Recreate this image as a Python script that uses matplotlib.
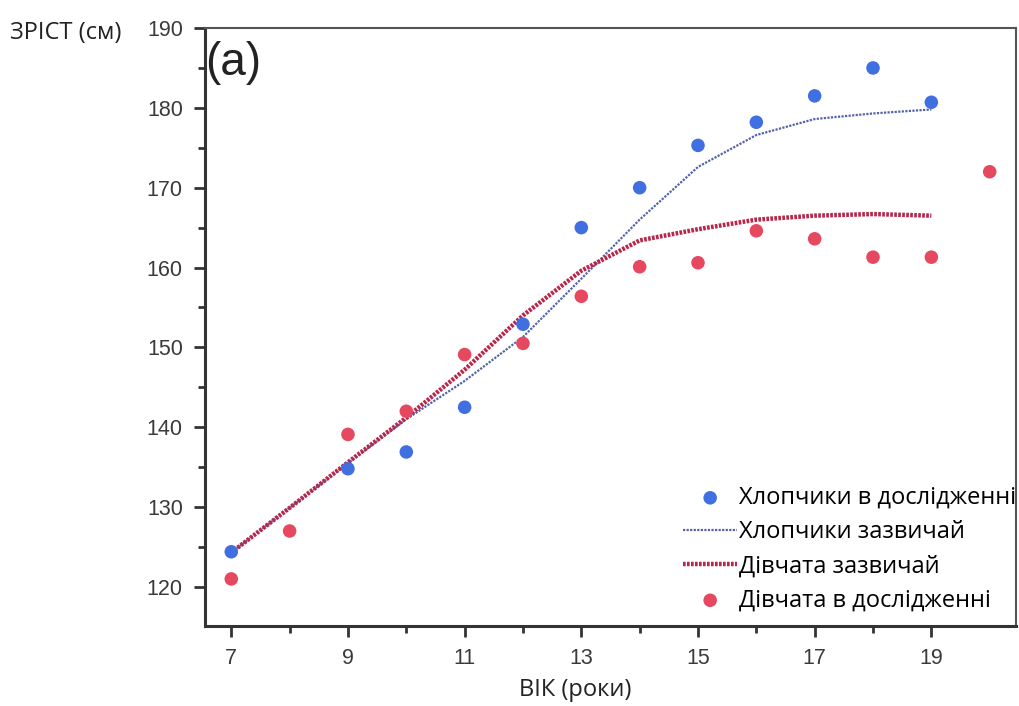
import matplotlib
matplotlib.use("Agg")
import matplotlib.pyplot as plt
from matplotlib.ticker import MultipleLocator

# data
boys_age = [7, 9, 10, 11, 12, 13, 14, 15, 16, 17, 18, 19]
boys_height = [124.4, 134.8, 136.9, 142.5, 152.9, 165.0, 170.0, 175.3, 178.2, 181.5, 185.0, 180.7]

girls_age = [7, 8, 9, 10, 11, 12, 13, 14, 15, 16, 17, 18, 19, 20]
girls_height = [121.0, 127.0, 139.1, 142.0, 149.1, 150.5, 156.4, 160.1, 160.6, 164.6, 163.6, 161.3, 161.3, 172.0]

norm_age = [7, 8, 9, 10, 11, 12, 13, 14, 15, 16, 17, 18, 19]
boys_norm = [124.3, 129.9, 135.5, 141.0, 145.8, 151.3, 158.6, 166.0, 172.6, 176.6, 178.6, 179.3, 179.8]
girls_norm = [124.3, 129.9, 135.6, 141.2, 147.2, 154.0, 159.6, 163.4, 164.8, 166.0, 166.5, 166.7, 166.5]

label_font = ["Open Sans", "DejaVu Sans"]
tick_font = "Liberation Sans"

fig = plt.figure(figsize=(10.19, 7.06), dpi=100)
ax = fig.add_axes([0.2012, 0.1133, 0.7958, 0.847])

ax.scatter(boys_age, boys_height, s=95, color="#3f6fe0", edgecolors="none",
           label="Хлопчики в дослідженні", zorder=3)
ax.plot(norm_age, boys_norm, color="#5562a8", lw=1.6, ls=(0, (1, 0.6)),
        label="Хлопчики зазвичай", zorder=2)
ax.plot(norm_age, girls_norm, color="#b8264a", lw=3.2, ls=(0, (0.6, 0.3)),
        label="Дівчата зазвичай", zorder=2)
ax.scatter(girls_age, girls_height, s=95, color="#e6485f", edgecolors="none",
           label="Дівчата в дослідженні", zorder=3)

ax.set_xlim(6.55, 20.45)
ax.set_ylim(115.1, 190)
ax.yaxis.set_major_locator(MultipleLocator(10))
ax.yaxis.set_minor_locator(MultipleLocator(5))
ax.set_xticks(range(7, 20, 2))
ax.set_xticks(range(8, 20, 2), minor=True)
ax.tick_params(which="major", direction="out", length=8, width=2, labelsize=15.5,
               pad=8, color="#333333")
ax.tick_params(which="minor", direction="out", length=5, width=2, color="#333333")
ax.tick_params(top=False, right=False)
for lbl in ax.get_xticklabels() + ax.get_yticklabels():
    lbl.set_fontfamily(tick_font)
    lbl.set_color("#3a3a3a")

for side in ["left", "bottom"]:
    ax.spines[side].set_linewidth(2.2)
    ax.spines[side].set_color("#333333")
for side in ["top", "right"]:
    ax.spines[side].set_linewidth(1.5)
    ax.spines[side].set_color("#555555")

ax.text(0.0, 0.942, "(a)", transform=ax.transAxes, fontsize=33,
        fontfamily=tick_font, color="#222222", va="center", ha="left")

fig.text(0.01, 0.953, "ЗРІСТ (см)", fontsize=17, fontfamily=label_font,
         color="#222222", va="center", ha="left")
fig.text(0.564, 0.022, "ВІК (роки)", fontsize=17, fontfamily=label_font,
         color="#222222", va="center", ha="center")

ax.legend(loc="lower right", bbox_to_anchor=(1.02, -0.005), frameon=False,
          prop={"family": label_font, "size": 17}, handlelength=2.3,
          handletextpad=0.05, labelspacing=0.43, borderpad=0.2)

fig.savefig("out.png", dpi=100)
